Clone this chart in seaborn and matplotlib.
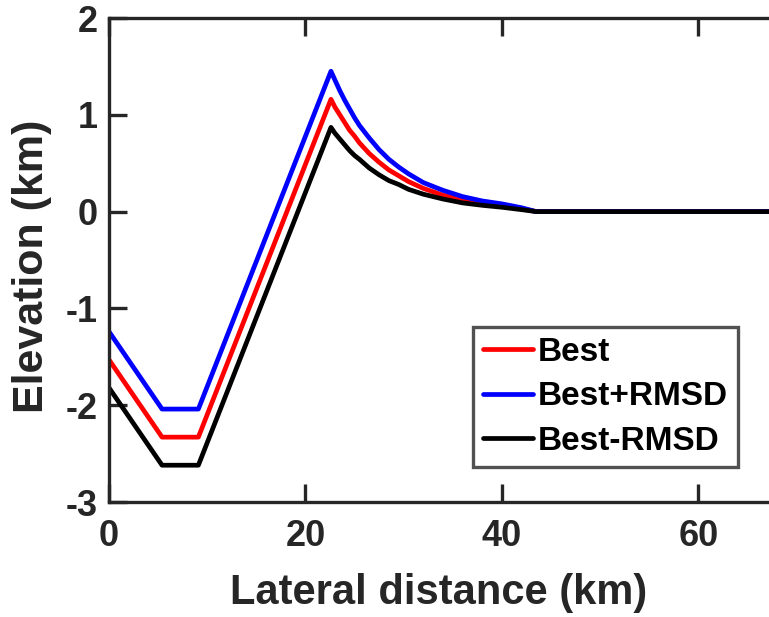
import matplotlib
matplotlib.use("Agg")
import matplotlib.pyplot as plt
import seaborn as sns
import pandas as pd

# Data
distance_km = [0, 5.4, 9.1, 22.6, 23.0, 23.5, 24.0, 24.5, 25.0, 25.5, 26.5, 27.5,
               28.5, 29.5, 30.5, 32, 34, 36, 38, 40, 42, 43.5, 67.2]
best = [-1.53, -2.33, -2.33, 1.16, 1.08, 1.00, 0.92, 0.84, 0.78, 0.71, 0.60, 0.51,
        0.43, 0.37, 0.31, 0.24, 0.17, 0.12, 0.09, 0.06, 0.03, 0.0, 0.0]
best_plus = [-1.24, -2.04, -2.04, 1.45, 1.36, 1.25, 1.15, 1.06, 0.97, 0.89, 0.76, 0.64,
             0.54, 0.46, 0.39, 0.30, 0.22, 0.155, 0.11, 0.08, 0.04, 0.0, 0.0]
best_minus = [-1.82, -2.62, -2.62, 0.87, 0.81, 0.75, 0.69, 0.63, 0.58, 0.54, 0.45, 0.38,
              0.32, 0.28, 0.23, 0.18, 0.13, 0.09, 0.065, 0.045, 0.02, 0.0, 0.0]
series_names = ["Best", "Best+RMSD", "Best-RMSD"]
series_colors = ["#ff0000", "#0000ff", "#000000"]
x_ticks = [0, 20, 40, 60]
y_ticks = [-3, -2, -1, 0, 1, 2]

rows = []
for name, vals in zip(series_names, [best, best_plus, best_minus]):
    for xv, yv in zip(distance_km, vals):
        rows.append({"x": xv, "y": yv, "series": name})
df = pd.DataFrame(rows)

sns.set_theme(style="white")
plt.rcParams["font.family"] = ["Liberation Sans", "DejaVu Sans"]
plt.rcParams["font.weight"] = "bold"

fig = plt.figure(figsize=(7.69, 6.17), dpi=100)
ax = fig.add_axes([109 / 769, 1 - 502 / 617, 1 - 109 / 769, (502 - 18) / 617])

sns.lineplot(data=df, x="x", y="y", hue="series", hue_order=series_names,
             palette=series_colors, linewidth=3.4, ax=ax, sort=False,
             estimator=None, legend=True)
for ln in ax.get_lines():
    ln.set_solid_joinstyle("round")

ax.set_xlim(0, 67.2)
ax.set_ylim(-3, 2)
ax.set_xticks(x_ticks)
ax.set_yticks(y_ticks)
ax.set_xticklabels([str(t) for t in x_ticks], fontsize=26, fontweight="bold", color="#262626")
ax.set_yticklabels([str(t) for t in y_ticks], fontsize=26, fontweight="bold", color="#262626")
ax.set_xlabel("Lateral distance (km)", fontsize=30, fontweight="bold", color="#262626", labelpad=14)
ax.set_ylabel("Elevation (km)", fontsize=31, fontweight="bold", color="#262626", labelpad=10)
ax.yaxis.label.set_y(0.487)

for side in ["left", "bottom", "top"]:
    ax.spines[side].set_visible(True)
    ax.spines[side].set_color("#262626")
    ax.spines[side].set_linewidth(2.4)
ax.spines["right"].set_visible(False)
ax.tick_params(axis="both", direction="in", length=13, width=2.4, color="#262626",
               top=True, bottom=True, left=True, right=False)
ax.tick_params(axis="x", pad=12)
ax.tick_params(axis="y", pad=8)

leg = ax.legend(loc="upper left", bbox_to_anchor=((473 - 109) / 660, (502 - 327) / 484),
                fontsize=24, frameon=True, fancybox=False, handlelength=1.5,
                handletextpad=0.15, borderpad=0.3, labelspacing=0.4, borderaxespad=0)
leg.get_frame().set_edgecolor("#262626")
leg.get_frame().set_linewidth(2.4)
for t in leg.get_texts():
    t.set_fontweight("bold")
    t.set_color("black")
for l in leg.get_lines():
    l.set_linewidth(3.4)

fig.savefig("out.png", dpi=100)
